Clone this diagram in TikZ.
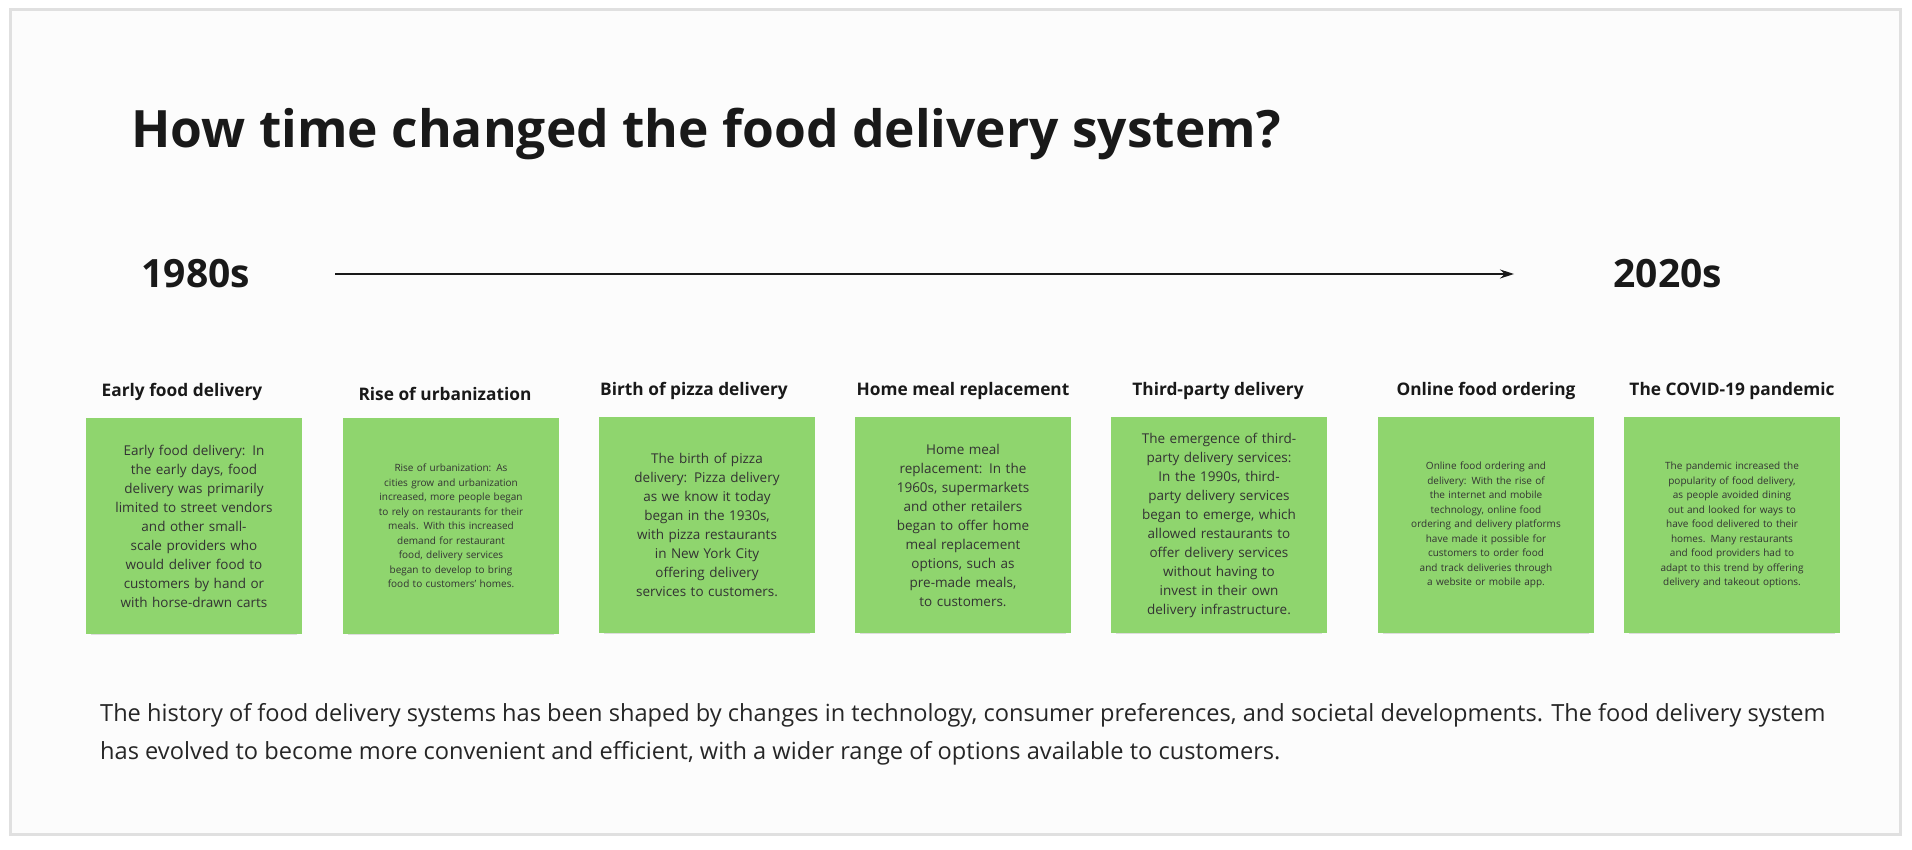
\documentclass[tikz,border=0pt]{standalone}
\usepackage{fontspec}
\setmainfont{Open Sans}
\usetikzlibrary{positioning,arrows.meta,shadows}

\begin{document}
\begin{tikzpicture}[x=1pt,y=-1pt,
	notenode/.style={rectangle, minimum width=216pt, minimum height=216pt, align=center,
		text=black!80, inner sep=12pt,
		drop shadow={shadow xshift=0pt, shadow yshift=-7pt, shadow scale=0.95, opacity=0.12, fill=black}},
	bignote/.style={notenode, font=\fontsize{13.5}{19}\selectfont, text width=158pt},
	smallnote/.style={notenode, font=\fontsize{10}{14.5}\selectfont, text width=152pt},
	headnode/.style={font=\bfseries\fontsize{17.3}{20}\selectfont, text=black!90},
	yearnode/.style={font=\bfseries\fontsize{39}{46}\selectfont, text=black!90},
	]
	\definecolor{postit}{HTML}{8FD56E}
	\tikzset{notenode/.append style={fill=postit}}
	\hyphenpenalty=10000
	
	%Frame
	\fill[white] (0,0) rectangle (1912,850);
	\draw[black!12, line width=3pt, fill=black!1] (10,10) rectangle (1900,834);
	
	%Title and years
	\node[anchor=west, font=\bfseries\fontsize{51.5}{60}\selectfont, text=black!90] (Title) at (128,134) {How time changed the food delivery system?};
	\node[yearnode, anchor=west] (Start) at (138,274) {1980s};
	\node[yearnode, anchor=west] (End) at (1610,274) {2020s};
	\coordinate (ArrowStart) at (335,274);
	\coordinate (ArrowEnd) at (1514,274);
	
	%Notes
	\node[bignote] (Note1) at (194,526) {Early food delivery: In the early days, food delivery was primarily limited to street vendors and other small-scale providers who would deliver food to customers by hand or with horse-drawn carts};
	\node[smallnote] (Note2) at (451,526) {Rise of urbanization: As cities grow and urbanization increased, more people began to rely on restaurants for their meals. With this increased demand for restaurant food, delivery services began to develop to bring food to customers' homes.};
	\node[bignote] (Note3) at (707,525) {The birth of pizza delivery: Pizza delivery as we know it today began in the 1930s, with pizza restaurants in New York City offering delivery services to customers.};
	\node[bignote] (Note4) at (963,525) {Home meal replacement: In the 1960s, supermarkets and other retailers began to offer home meal replacement options, such as pre-made meals, to customers.};
	\node[bignote] (Note5) at (1219,525) {The emergence of third-party delivery services: In the 1990s, third-party delivery services began to emerge, which allowed restaurants to offer delivery services without having to invest in their own delivery infrastructure.};
	\node[smallnote] (Note6) at (1486,525) {Online food ordering and delivery: With the rise of the internet and mobile technology, online food ordering and delivery platforms have made it possible for customers to order food and track deliveries through a website or mobile app.};
	\node[smallnote] (Note7) at (1732,525) {The pandemic increased the popularity of food delivery, as people avoided dining out and looked for ways to have food delivered to their homes. Many restaurants and food providers had to adapt to this trend by offering delivery and takeout options.};
	
	%Headings
	\node[headnode] (Head1) [above=14pt of Note1, xshift=-12pt] {Early food delivery};
	\node[headnode] (Head2) [above=14pt of Note2, xshift=-6pt] {Rise of urbanization};
	\node[headnode] (Head3) [above=14pt of Note3, xshift=-13pt] {Birth of pizza delivery};
	\node[headnode] (Head4) [above=14pt of Note4, xshift=0pt] {Home meal replacement};
	\node[headnode] (Head5) [above=14pt of Note5, xshift=-1pt] {Third-party delivery};
	\node[headnode] (Head6) [above=14pt of Note6, xshift=0pt] {Online food ordering};
	\node[headnode] (Head7) [above=14pt of Note7, xshift=0pt] {The COVID-19 pandemic};
	
	%Summary
	\node[anchor=north west, align=left, inner sep=0pt, font=\fontsize{23.6}{38}\selectfont, text=black!85] (Summary) at (100,703) {The history of food delivery systems has been shaped by changes in technology, consumer preferences, and societal developments. The food delivery system\\has evolved to become more convenient and efficient, with a wider range of options available to customers.};
	
	%Lines
	\draw[-{Stealth[length=14pt,width=9pt]}, line width=1.3pt, black!90] (ArrowStart) -- (ArrowEnd);
	
\end{tikzpicture}
\end{document}
